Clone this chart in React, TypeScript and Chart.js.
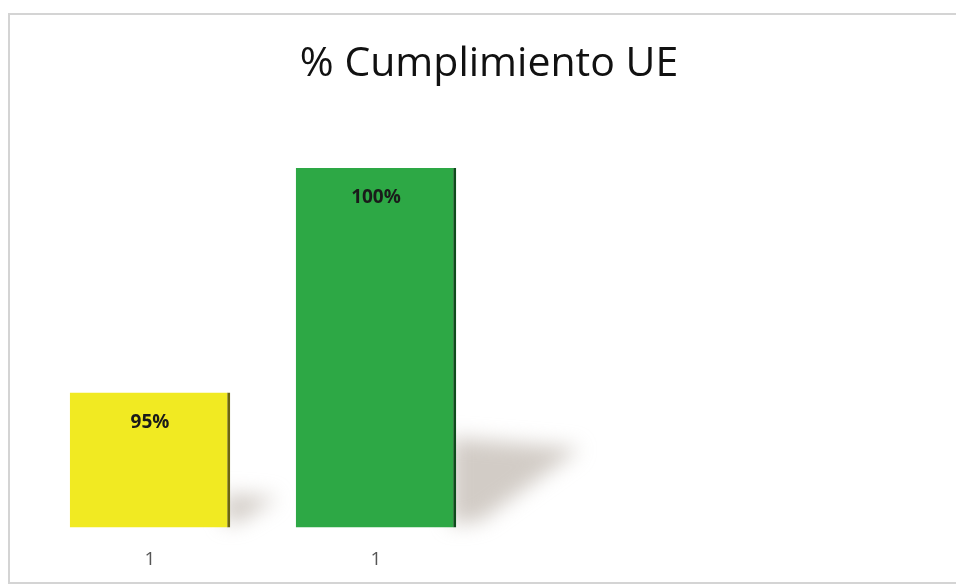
import React, { useEffect, useRef } from "react";
import { Chart, registerables } from "chart.js";

Chart.register(...registerables);

const categories = ["1", "1", "", ""];
const values = [95, 100, null, null];
const valueLabels = ["95%", "100%", "", ""];
const barColors = ["#F1EA22", "#2DA845", "#ffffff", "#ffffff"];
const edgeColors = ["#6b6510", "#0f4a1c", "#ffffff", "#ffffff"];
const yMin = 92;
const yMax = 101;
const barFraction = 0.71;
const titleText = "% Cumplimiento UE";

const shadowPlugin = {
  id: "barShadow",
  afterDraw(chart: any) {
    const ctx = chart.ctx;
    const xs = chart.scales.x;
    const ys = chart.scales.y;
    const catW = (xs.right - xs.left) / categories.length;
    const base = ys.getPixelForValue(yMin);
    values.forEach((v, i) => {
      if (v == null) return;
      const top = ys.getPixelForValue(v);
      const h = base - top;
      const x2 = xs.getPixelForValue(i) + (catW * barFraction) / 2 + 2;
      ctx.save();
      ctx.globalCompositeOperation = "destination-over";
      ctx.filter = "blur(10px)";
      ctx.fillStyle = "rgba(180,170,160,0.6)";
      ctx.beginPath();
      ctx.moveTo(x2 - 8, base - h * 0.25);
      ctx.lineTo(x2 + h * 0.34, base - h * 0.22);
      ctx.lineTo(x2 + h * 0.06, base - 6);
      ctx.lineTo(x2 - 8, base - 3);
      ctx.closePath();
      ctx.fill();
      ctx.restore();
    });
  },
};

const labelPlugin = {
  id: "barLabels",
  afterDatasetsDraw(chart: any) {
    const ctx = chart.ctx;
    const meta = chart.getDatasetMeta(0);
    ctx.save();
    ctx.font = "bold 19px 'Open Sans', 'Noto Sans', sans-serif";
    ctx.fillStyle = "#1a1a1a";
    ctx.textAlign = "center";
    ctx.textBaseline = "middle";
    meta.data.forEach((bar: any, i: number) => {
      if (values[i] == null) return;
      ctx.fillText(valueLabels[i], bar.x, bar.y + 30);
    });
    ctx.restore();
  },
};

export default function App() {
  const ref = useRef<HTMLCanvasElement>(null);
  useEffect(() => {
    if (!ref.current) return;
    const chart = new Chart(ref.current, {
      type: "bar",
      data: {
        labels: categories,
        datasets: [
          {
            data: values as any,
            backgroundColor: barColors,
            borderColor: edgeColors,
            borderWidth: { top: 0, left: 0, bottom: 2, right: 3 } as any,
            borderSkipped: false as any,
            barPercentage: barFraction,
            categoryPercentage: 1,
          },
        ],
      },
      options: {
        animation: false,
        responsive: false,
        maintainAspectRatio: false,
        layout: { padding: { left: 37, right: 15, top: 0, bottom: 4 } },
        plugins: {
          legend: { display: false },
          tooltip: { enabled: false },
          title: {
            display: true,
            text: titleText,
            color: "#111",
            font: { family: "'Open Sans', 'Noto Sans', sans-serif", size: 41, weight: "normal" as any },
            padding: { top: 40, bottom: 34 },
          },
        },
        scales: {
          x: {
            grid: { display: false },
            border: { display: false },
            ticks: {
              color: "#555",
              font: { family: "'Open Sans', 'Noto Sans', sans-serif", size: 19 },
              padding: 13,
            },
          },
          y: {
            display: false,
            min: yMin,
            max: yMax,
          },
        },
      },
      plugins: [shadowPlugin, labelPlugin],
    });
    return () => chart.destroy();
  }, []);

  return (
    <div style={{ position: "fixed", left: 0, top: 0, width: 956, height: 588, background: "#fff" }}>
      <div
        style={{
          position: "absolute",
          left: 8,
          top: 13,
          width: 960,
          height: 571,
          borderTop: "2px solid #d4d4d4",
          borderLeft: "2px solid #d4d4d4",
          borderBottom: "2px solid #d4d4d4",
          boxSizing: "border-box",
        }}
      />
      <canvas ref={ref} width={956} height={588} style={{ position: "absolute", left: 0, top: 0 }} />
    </div>
  );
}
